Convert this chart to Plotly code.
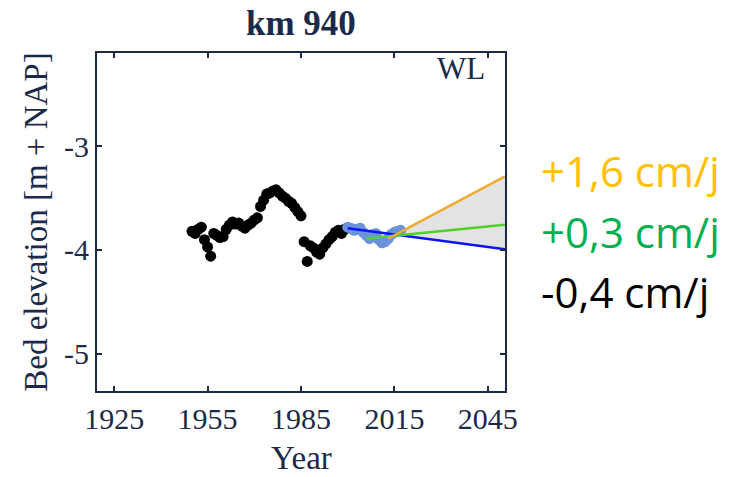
import plotly.graph_objects as go

# Measured bed elevation, km 940 (m + NAP)
years_hist = list(range(1950, 2000))
bed_hist = [
    -3.82, -3.84, -3.80, -3.78, -3.90, -3.97, -4.06, -3.84, -3.86, -3.88,
    -3.87, -3.80, -3.76, -3.73, -3.75, -3.74, -3.77, -3.79, -3.76, -3.74,
    -3.71, -3.69, -3.58, -3.52, -3.46, -3.45, -3.43, -3.42, -3.45, -3.48,
    -3.50, -3.53, -3.55, -3.59, -3.63, -3.67, -3.92, -4.11, -3.96, -3.98,
    -4.02, -4.04, -3.98, -3.94, -3.90, -3.87, -3.83, -3.81, -3.84, -3.80,
]

years_recent = list(range(2000, 2018))
bed_recent = [
    -3.78, -3.79, -3.81, -3.80, -3.79, -3.83, -3.86, -3.89, -3.85, -3.84,
    -3.90, -3.93, -3.92, -3.89, -3.85, -3.83, -3.82, -3.81,
]

# Trend lines: start year, start level (m), rate (cm/yr)
trend_names = ["+1,6 cm/j", "+0,3 cm/j", "-0,4 cm/j"]
trend_start_year = [2013, 2006, 2000]
trend_start_level = [-3.89, -3.89, -3.79]
trend_rate_cm = [1.6, 0.3, -0.4]
trend_colors = ["#f0aa30", "#52d12a", "#0a14f5"]
label_colors = ["#FFC000", "#00B050", "#000000"]

x_end = 2050.5
NAVY = "#1b2a48"
SERIF = "Liberation Serif, Times New Roman, serif"


def trend_at(i, year):
    return trend_start_level[i] + trend_rate_cm[i] / 100.0 * (year - trend_start_year[i])


fig = go.Figure()

# Uncertainty band between the steepest and the falling trend
x0 = trend_start_year[0]
band_x = [x0, x_end, x_end, x0]
band_y = [trend_at(0, x0), trend_at(0, x_end), trend_at(2, x_end), trend_at(2, x0)]
fig.add_trace(go.Scatter(
    x=band_x, y=band_y, mode="lines", fill="toself",
    fillcolor="#e3e3e3", line=dict(color="#c8c8c8", width=0.5),
    hoverinfo="skip", showlegend=False,
))

fig.add_trace(go.Scatter(
    x=years_hist, y=bed_hist, mode="markers",
    marker=dict(color="black", size=11, line=dict(width=0)),
    showlegend=False,
))
fig.add_trace(go.Scatter(
    x=years_recent, y=bed_recent, mode="markers",
    marker=dict(color="#6a93dc", size=11, line=dict(width=0)),
    showlegend=False,
))

for i in [2, 1, 0]:
    xs = [trend_start_year[i], x_end]
    fig.add_trace(go.Scatter(
        x=xs, y=[trend_at(i, x) for x in xs], mode="lines",
        line=dict(color=trend_colors[i], width=2.5),
        showlegend=False,
    ))

axis_common = dict(
    showline=True, linecolor=NAVY, linewidth=2, mirror="ticks",
    ticks="inside", ticklen=5, tickwidth=1.5, tickcolor=NAVY,
    showgrid=False, zeroline=False, automargin=False,
    tickfont=dict(family=SERIF, size=30, color=NAVY),
)

fig.update_xaxes(
    range=[1919.5, x_end], tickvals=[1925, 1955, 1985, 2015, 2045],
    **axis_common,
)
fig.update_yaxes(
    range=[-5.36, -2.1], tickvals=[-5, -4, -3], ticktext=["-5", "-4", "-3"],
    title=dict(text="Bed elevation [m + NAP]", font=dict(family=SERIF, size=33, color=NAVY), standoff=6),
    **axis_common,
)

annotations = [
    dict(text="<b>km 940</b>", x=0.5, y=1.088, xref="paper", yref="paper",
         xanchor="center", yanchor="middle", showarrow=False,
         font=dict(family=SERIF, size=35, color=NAVY)),
    dict(text="Year", x=0.5, y=-0.198, xref="paper", yref="paper",
         xanchor="center", yanchor="middle", showarrow=False,
         font=dict(family=SERIF, size=33, color=NAVY)),
    dict(text="WL", x=0.892, y=0.953, xref="paper", yref="paper",
         xanchor="center", yanchor="middle", showarrow=False,
         font=dict(family=SERIF, size=31, color=NAVY)),
]
label_y = [0.652, 0.472, 0.295]
for name, col, ly in zip(trend_names, label_colors, label_y):
    annotations.append(dict(
        text=name, x=1.083, y=ly, xref="paper", yref="paper",
        xanchor="left", yanchor="middle", showarrow=False,
        font=dict(family="Open Sans, sans-serif", size=42, color=col),
    ))

fig.update_layout(
    width=738, height=477,
    margin=dict(l=97, r=233, t=53, b=86),
    paper_bgcolor="white", plot_bgcolor="white",
    annotations=annotations,
)

fig.write_html("out.html")
